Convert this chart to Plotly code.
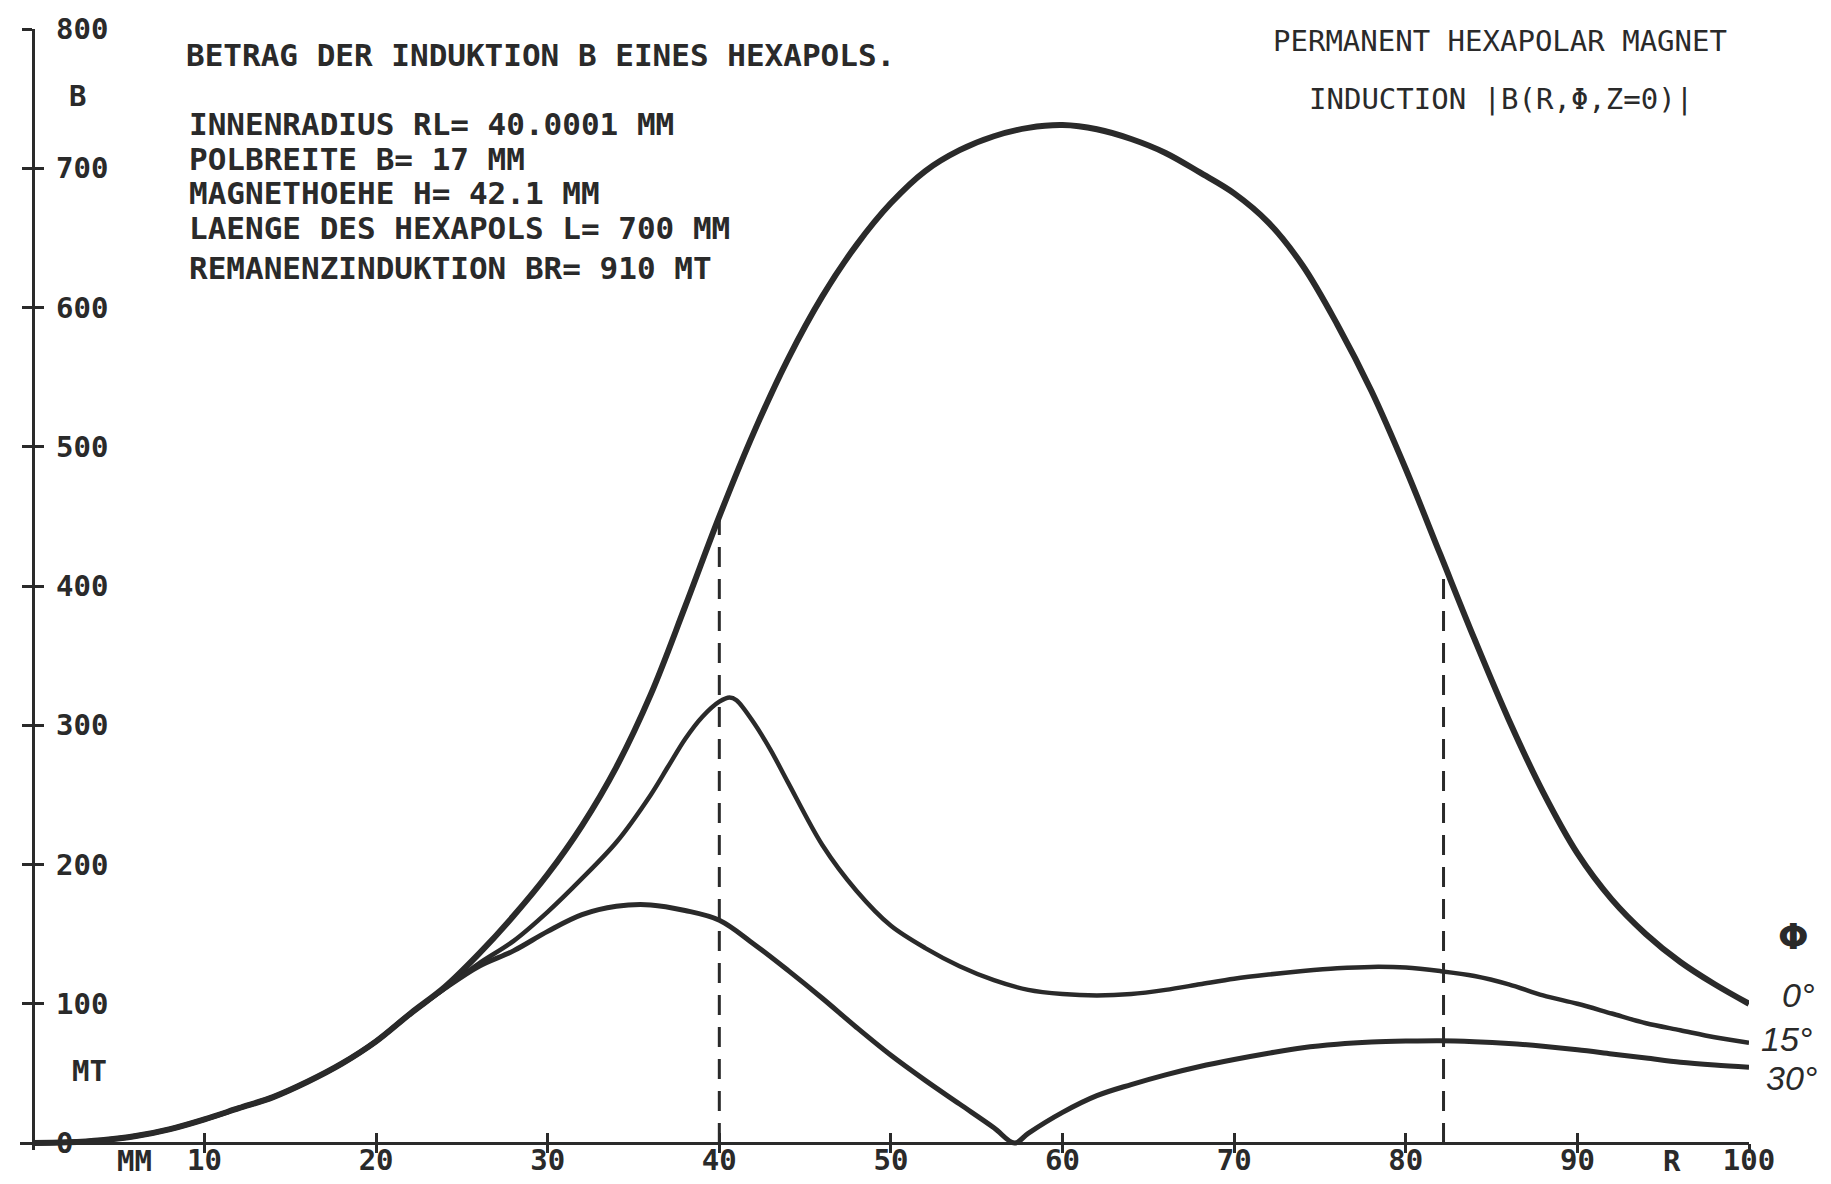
import numpy as np
import plotly.graph_objects as go

# ---------------- data ----------------
R_0 = [0, 2, 4, 6, 8, 10, 12, 14, 16, 18, 20, 22, 24, 26, 28, 30, 32, 34, 36, 38, 40,
       42, 44, 46, 48, 50, 52, 54, 56, 58, 60, 62, 64, 66, 68, 70, 72, 74, 76, 78, 80,
       82, 84, 86, 88, 90, 92, 94, 96, 98, 100]
B_0 = [0, 0.5, 2, 5, 10, 17, 25, 33, 44, 57, 73, 93, 112, 136, 163, 193, 228, 270, 322, 385, 450,
       510, 563, 608, 645, 675, 698, 713, 723, 729, 731, 728, 721, 711, 697, 682, 661, 630, 588, 540, 484,
       423, 362, 304, 252, 208, 175, 150, 130, 114, 100]

R_15 = [0, 2, 4, 6, 8, 10, 12, 14, 16, 18, 20, 22, 24, 26, 28, 30, 32, 34, 36, 37, 38, 39, 40,
        40.6, 41, 42, 43, 44, 46, 48, 50, 52, 54, 56, 58, 60, 62, 64, 66, 68, 70, 72, 74, 76, 78,
        80, 82, 84, 86, 88, 90, 92, 94, 96, 98, 100]
B_15 = [0, 0.5, 2, 5, 10, 17, 25, 33, 44, 57, 73, 93, 111, 129, 145, 166, 190, 216, 250, 270, 290, 306, 317,
        320, 318, 302, 282, 259, 214, 181, 156, 140, 127, 117, 110, 107, 106, 107, 110, 114, 118, 121, 123.5, 125.5, 126.5,
        126, 123.5, 120, 114, 106, 100, 93, 86, 81, 76, 72]

R_30 = [0, 2, 4, 6, 8, 10, 12, 14, 16, 18, 20, 22, 24, 26, 28, 30, 32, 34, 36, 38, 40,
        42, 44, 46, 48, 50, 52, 54, 56, 57.2, 58, 60, 62, 64, 66, 68, 70, 72, 74, 76, 78,
        80, 82, 84, 86, 88, 90, 92, 94, 96, 98, 100]
B_30 = [0, 0.5, 2, 5, 10, 17, 25, 33, 44, 57, 73, 93, 111, 127, 138, 152, 164, 170, 171, 167, 160,
        143, 124, 104, 83, 63, 45, 28, 11, 0, 7, 22, 34, 42, 49, 55, 60, 64.5, 68.5, 71, 72.5,
        73.2, 73.5, 72.8, 71.5, 69.5, 67, 64, 61, 58, 56, 54.5]

DASH_R = [40, 82.2]
X_TICKS = [10, 20, 30, 40, 50, 60, 70, 80, 90, 100]
Y_TICKS = [0, 100, 200, 300, 400, 500, 600, 700, 800]

INFO_LINES = [
    "BETRAG DER INDUKTION B EINES HEXAPOLS.",
    "INNENRADIUS RL= 40.0001 MM",
    "POLBREITE B= 17 MM",
    "MAGNETHOEHE H= 42.1 MM",
    "LAENGE DES HEXAPOLS L= 700 MM",
    "REMANENZINDUKTION BR= 910 MT",
]
TITLE_LINES = ["PERMANENT HEXAPOLAR MAGNET", "INDUCTION |B(R,Φ,Z=0)|"]
PHI_LABELS = ["0°", "15°", "30°"]

# ---------------- layout geometry ----------------
W, H = 1831, 1184
ML, MR, MT, MB = 20, 82, 29, 34
XR = [-0.75, 100]
YR = [-5, 800]
INK = "#2a2a2a"
PLOT_FONT = "DejaVu Sans Mono"


def paper_x(X):
    return (X - ML) / (W - ML - MR)


def paper_y(Y):
    return (H - MB - Y) / (H - MT - MB)


def data_px(xv):
    return (xv - XR[0]) / (XR[1] - XR[0])


def data_py(yv):
    return (yv - YR[0]) / (YR[1] - YR[0])


x0_paper = data_px(0)
y0_paper = data_py(0)

fig = go.Figure()

fig.add_trace(go.Scatter(x=R_0, y=B_0, mode="lines", name="0°",
                         line=dict(color=INK, width=6, shape="spline", smoothing=1.0)))
fig.add_trace(go.Scatter(x=R_15, y=B_15, mode="lines", name="15°",
                         line=dict(color=INK, width=4.5, shape="spline", smoothing=0.9)))
# 30° curve has a sharp zero at its minimum: draw both branches meeting there
i_min = int(np.argmin(B_30))
fig.add_trace(go.Scatter(x=R_30[:i_min + 1], y=B_30[:i_min + 1], mode="lines", name="30°",
                         line=dict(color=INK, width=5, shape="spline", smoothing=1.0)))
fig.add_trace(go.Scatter(x=R_30[i_min:], y=B_30[i_min:], mode="lines", name="30°",
                         line=dict(color=INK, width=5, shape="spline", smoothing=1.0)))

for r in DASH_R:
    top = float(np.interp(r, R_0, B_0))
    fig.add_trace(go.Scatter(x=[r, r], y=[0, top], mode="lines", xaxis="x2", yaxis="y2",
                             line=dict(color=INK, width=3, dash="20px,12px")))

tickfont = dict(family=PLOT_FONT, size=29, color=INK, weight="bold")

fig.update_layout(
    width=W, height=H,
    margin=dict(l=ML, r=MR, t=MT, b=MB, autoexpand=False),
    paper_bgcolor="white", plot_bgcolor="white",
    showlegend=False,
    # main x axis: upward tick half + labels; overlay axis adds the downward half
    xaxis=dict(range=XR, domain=[0, 1], anchor="free", position=y0_paper, automargin=False,
               showline=True, linecolor=INK, linewidth=3,
               ticks="inside", ticklen=9, tickwidth=3, tickcolor=INK,
               tickvals=X_TICKS, ticktext=[str(v) for v in X_TICKS], tickfont=tickfont,
               ticklabelstandoff=-10,
               showgrid=False, zeroline=False, fixedrange=True),
    xaxis2=dict(range=XR, domain=[0, 1], overlaying="x", anchor="free", position=y0_paper,
                automargin=False,
                showline=False, ticks="outside", ticklen=9, tickwidth=3, tickcolor=INK,
                tickvals=X_TICKS, showticklabels=False, showgrid=False, zeroline=False),
    yaxis=dict(range=YR, domain=[0, 1], anchor="free", position=x0_paper, automargin=False,
               showline=True, linecolor=INK, linewidth=3,
               ticks="outside", ticklen=10, tickwidth=3, tickcolor=INK,
               tickvals=Y_TICKS, ticktext=[str(v) for v in Y_TICKS], tickfont=tickfont,
               ticklabelposition="inside", ticklabelstandoff=24, ticklabeloverflow="allow",
               showgrid=False, zeroline=False),
    yaxis2=dict(range=YR, domain=[0, 1], overlaying="y", anchor="free", position=x0_paper,
                automargin=False,
                showline=False, ticks="inside", ticklen=10, tickwidth=3, tickcolor=INK,
                tickvals=Y_TICKS, showticklabels=False, showgrid=False, zeroline=False),
)

ann = []
# info block (upper left)
info_pos = [(184, 55), (187, 124), (187, 159), (187, 193), (187, 228), (187, 268)]
for txt, (X, Y) in zip(INFO_LINES, info_pos):
    ann.append(dict(text=txt, xref="paper", yref="paper", x=paper_x(X), y=paper_y(Y),
                    xanchor="left", yanchor="middle", showarrow=False,
                    font=dict(family=PLOT_FONT, size=31, color=INK, weight="bold")))
# title block (upper right)
for txt, (X, Y) in zip(TITLE_LINES, [(1500, 41), (1501, 99)]):
    ann.append(dict(text=txt, xref="paper", yref="paper", x=paper_x(X), y=paper_y(Y),
                    xanchor="center", yanchor="middle", showarrow=False,
                    font=dict(family=PLOT_FONT, size=29, color=INK)))
# axis unit labels
unit_font = dict(family=PLOT_FONT, size=29, color=INK, weight="bold")
ann.append(dict(text="B", x=2.6, y=752, xref="x", yref="y", showarrow=False,
                xanchor="center", yanchor="middle", font=unit_font))
ann.append(dict(text="MT", x=3.3, y=52, xref="x", yref="y", showarrow=False,
                xanchor="center", yanchor="middle", font=unit_font))
ann.append(dict(text="MM", x=5.9, y=0, xref="x", yref="y", showarrow=False,
                xanchor="center", yanchor="middle", yshift=-18, font=unit_font))
ann.append(dict(text="R", x=95.5, y=0, xref="x", yref="y", showarrow=False,
                xanchor="center", yanchor="middle", yshift=-18, font=unit_font))
# curve labels at right (beyond the axis end, so placed in paper space)
ann.append(dict(text="Φ", x=data_px(102.6), y=data_py(148), xref="paper", yref="paper",
                showarrow=False, xanchor="center", yanchor="middle",
                font=dict(family="DejaVu Sans", size=36, color=INK, weight="bold")))
lab_font = dict(family="Liberation Sans", size=34, color=INK, style="italic")
for txt, xv, yv in zip(PHI_LABELS, [102.9, 102.2, 102.45], [106, 75, 47]):
    ann.append(dict(text=txt, x=data_px(xv), y=data_py(yv), xref="paper", yref="paper",
                    showarrow=False, xanchor="center", yanchor="middle", font=lab_font))

fig.update_layout(annotations=ann)
fig.write_html("out.html")
